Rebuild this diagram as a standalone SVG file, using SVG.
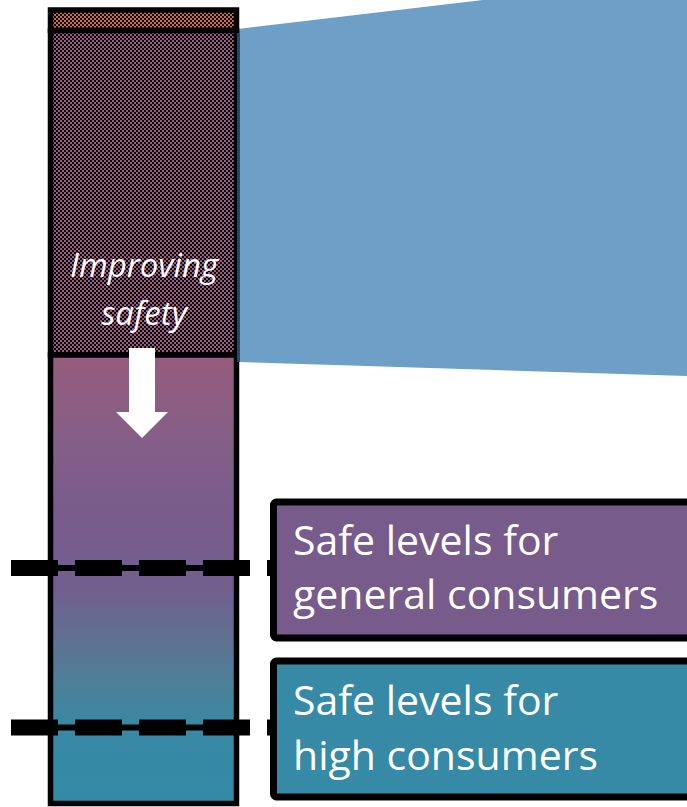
<svg xmlns="http://www.w3.org/2000/svg" width="687" height="807" viewBox="0 0 687 807">
  <defs>
    <pattern id="pPurple" patternUnits="userSpaceOnUse" width="4" height="4">
      <rect width="4" height="4" fill="#000"/>
      <rect x="0" y="0" width="2" height="2" fill="#9E5884"/>
      <rect x="2" y="2" width="2" height="2" fill="#9E5884"/>
    </pattern>
    <pattern id="pOrange" patternUnits="userSpaceOnUse" width="4" height="4">
      <rect width="4" height="4" fill="#000"/>
      <rect x="0" y="0" width="2" height="2" fill="#D4693A"/>
      <rect x="2" y="2" width="2" height="2" fill="#D4693A"/>
    </pattern>
    <linearGradient id="gCol" gradientUnits="userSpaceOnUse" x1="0" y1="355" x2="0" y2="806">
      <stop offset="0" stop-color="#965C7C"/>
      <stop offset="0.21" stop-color="#835E88"/>
      <stop offset="0.37" stop-color="#775B8B"/>
      <stop offset="0.52" stop-color="#715F8E"/>
      <stop offset="0.63" stop-color="#607091"/>
      <stop offset="0.74" stop-color="#4A8199"/>
      <stop offset="0.83" stop-color="#3889A5"/>
      <stop offset="1" stop-color="#348AA6"/>
    </linearGradient>
    <style>
      .cell { stroke: #000; stroke-width: 5.5; }
      .box { stroke: #000; stroke-width: 7; }
      .boxtxt { font-family: "Open Sans", "Liberation Sans", sans-serif; font-size: 41px; fill: #fff; }
      .ital { font-family: "Open Sans", "Liberation Sans", sans-serif; font-size: 33px; font-style: italic; fill: #fff; }
      .dash { stroke: #000; stroke-width: 16; stroke-dasharray: 47 17; fill: none; }
      .thin { stroke: #000; stroke-width: 6; fill: none; }
    </style>
  </defs>

  <g id="projection">
    <polygon points="238,29 483,0 687,0 687,376 238,362" fill="#6E9FC7"/>
  </g>

  <g id="column">
    <rect class="cell" x="50.5" y="10" width="186" height="20.5" fill="url(#pOrange)"/>
    <rect class="cell" x="50.5" y="30.5" width="186" height="324.5" fill="url(#pPurple)"/>
    <rect class="cell" x="50.5" y="355" width="186" height="448.5" fill="url(#gCol)"/>
    <rect x="237" y="33" width="3" height="329" fill="#1F4B70"/>
  </g>

  <g id="improving-safety">
    <text class="ital" x="144" y="277" text-anchor="middle">Improving</text>
    <text class="ital" x="144" y="325" text-anchor="middle">safety</text>
    <polygon points="129,348 155,348 155,412 168,412 142,438 116,412 129,412" fill="#fff"/>
  </g>

  <g id="connectors">
    <line class="thin" x1="48" y1="568" x2="239" y2="568"/>
    <line class="dash" x1="11" y1="568" x2="300" y2="568"/>
    <line class="thin" x1="48" y1="727.5" x2="239" y2="727.5"/>
    <line class="dash" x1="11" y1="727.5" x2="300" y2="727.5"/>
  </g>

  <g id="general-consumers">
    <rect class="box" x="273.5" y="502" width="418" height="136" rx="3" fill="#775B8B"/>
    <text class="boxtxt" x="293" y="555">Safe levels for</text>
    <text class="boxtxt" x="293" y="609">general consumers</text>
  </g>

  <g id="high-consumers">
    <rect class="box" x="273.5" y="661" width="418" height="136" rx="3" fill="#368AA6"/>
    <text class="boxtxt" x="293" y="715">Safe levels for</text>
    <text class="boxtxt" x="293" y="770">high consumers</text>
  </g>
</svg>
